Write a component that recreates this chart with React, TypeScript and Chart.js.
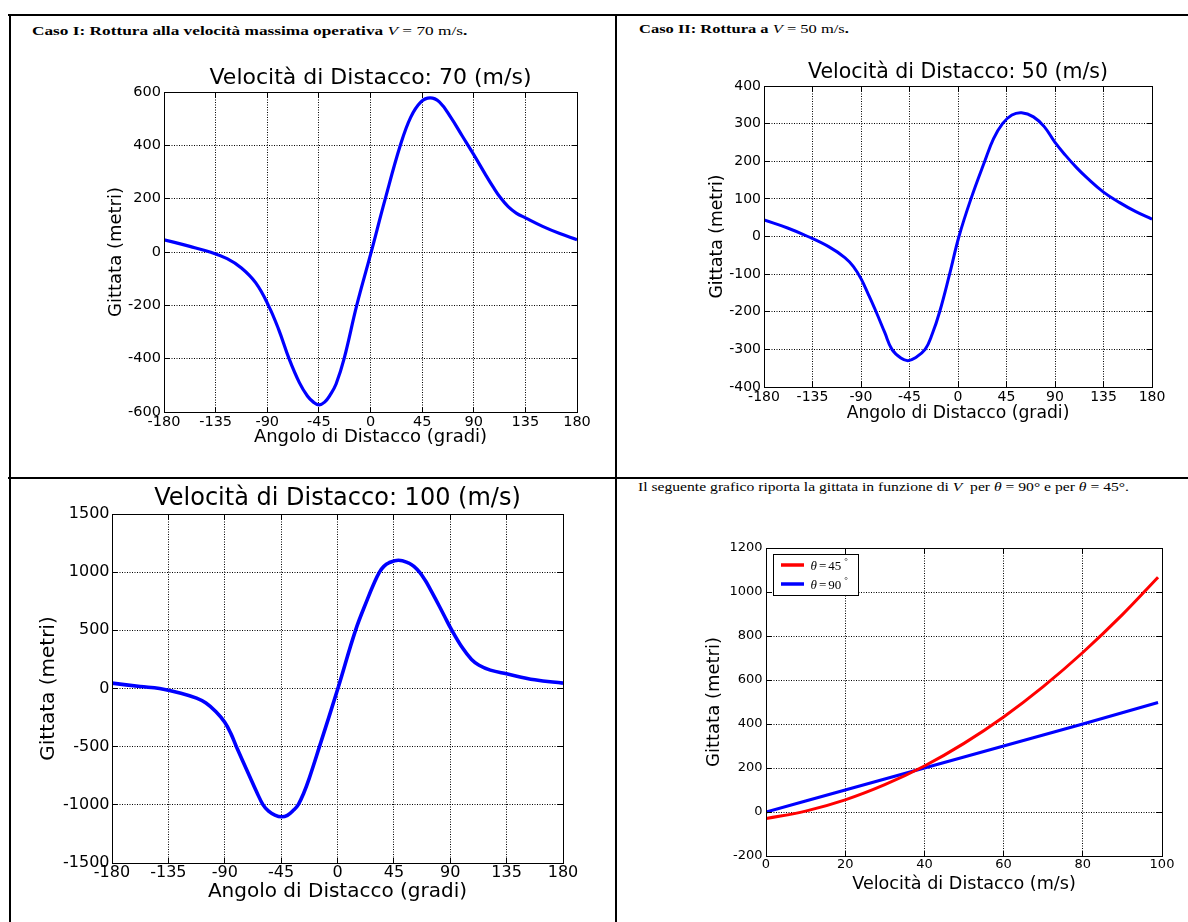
import React, { useEffect, useLayoutEffect, useRef } from 'react';
import { Chart, registerables } from 'chart.js';

Chart.register(...registerables);

// ---------------- data ----------------
const angleTicks = [-180, -135, -90, -45, 0, 45, 90, 135, 180];

const yTicks70 = [-600, -400, -200, 0, 200, 400, 600];
const angle70 = [-180, -157.5, -140, -125, -112.5, -100, -89, -80, -71, -62, -55, -50, -45, -40, -35, -30, -23, -12, 0, 12.9, 26, 35, 44, 52, 60, 70, 80, 90, 100, 107, 113, 120, 127, 135, 150, 165, 180];
const range70 = [46, 21, 0, -25, -60, -116, -200, -291, -400, -490, -540, -562, -573, -563, -535, -495, -400, -200, -10, 200, 400, 505, 563, 578, 563, 505, 435, 365, 292, 243, 205, 170, 146, 128, 96, 69, 46];

const yTicks50 = [-400, -300, -200, -100, 0, 100, 200, 300, 400];
const angle50 = [-180, -157.5, -139.3, -120, -105, -97, -90, -83, -76, -68, -61.3, -53, -46.5, -40, -30.5, -24, -17, -7.8, 0.9, 12, 24.8, 33, 41.3, 50, 59, 70, 80, 90, 100, 110, 120, 135, 150, 165, 180];
const range50 = [44, 22, 0, -27, -56, -80, -112, -155, -200, -255, -300, -323, -330, -323, -300, -260, -200, -100, 0, 100, 200, 260, 300, 323, 329, 318, 292, 250, 215, 183, 155, 118, 90, 66, 46];

const yTicks100 = [-1500, -1000, -500, 0, 500, 1000, 1500];
const angle100 = [-180, -157.5, -142, -125, -112.5, -105, -97, -90, -85, -80.7, -70, -64.5, -59.4, -55, -50, -44.7, -40, -35, -31.4, -27, -22.5, -14.4, 0.3, 14.4, 24, 29, 33.5, 37, 41, 48.7, 57, 61, 65.5, 70, 74, 78, 85, 90.8, 100, 107, 113, 122, 135, 157.5, 180];
const range100 = [46, 17, 0, -40, -83, -125, -200, -290, -390, -500, -759, -890, -1000, -1055, -1088, -1103, -1090, -1045, -1000, -900, -770, -500, 0, 500, 770, 900, 1000, 1050, 1080, 1103, 1078, 1050, 1000, 930, 855, 775, 630, 510, 345, 250, 200, 158, 126, 75, 46];

const speedTicks = [0, 20, 40, 60, 80, 100];
const yTicksSpeed = [-200, 0, 200, 400, 600, 800, 1000, 1200];
const speed45 = [0, 10, 20, 30, 40, 50, 60, 70, 80, 90, 99];
const range45 = [-30, 4, 55, 124, 209, 312, 432, 570, 725, 897, 1067];
const speed90 = [0, 20, 40, 60, 80, 99];
const range90 = [0, 100, 200, 300, 400, 498];

const FAMILY = '"DejaVu Sans", sans-serif';
const SERIF = '"Liberation Serif", "DejaVu Serif", serif';

type Series = { label: string; xs: number[]; ys: number[]; color: string; width: number };
type Spec = {
  plot: [number, number, number, number];
  axisW: number; axisH: number; padTop: number; padRight: number;
  xMin: number; xMax: number; yMin: number; yMax: number;
  xTicks: number[]; yTicks: number[];
  tickSize: number; xTickPad: number; yTickPad: number;
  xTitle: string; yTitle: string; xTitleSize: number; yTitleSize: number;
  xTitleY: number; yTitleX: number;
  title?: string; titleSize?: number; titleY?: number;
  series: Series[];
  legend?: boolean;
};

const specs: Spec[] = [
  {
    plot: [164, 92, 577, 412], axisW: 60, axisH: 40, padTop: 40, padRight: 20,
    xMin: -180, xMax: 180, yMin: -600, yMax: 600, xTicks: angleTicks, yTicks: yTicks70,
    tickSize: 14.5, xTickPad: 1.5, yTickPad: 3,
    xTitle: 'Angolo di Distacco (gradi)', yTitle: 'Gittata (metri)', xTitleSize: 18, yTitleSize: 18,
    xTitleY: 437.5, yTitleX: 116,
    title: 'Velocità di Distacco: 70 (m/s)', titleSize: 22, titleY: 78,
    series: [{ label: 'V=70', xs: angle70, ys: range70, color: '#0000ff', width: 3.2 }],
  },
  {
    plot: [764, 86, 1152, 387], axisW: 60, axisH: 40, padTop: 40, padRight: 20,
    xMin: -180, xMax: 180, yMin: -400, yMax: 400, xTicks: angleTicks, yTicks: yTicks50,
    tickSize: 14, xTickPad: 2, yTickPad: 3,
    xTitle: 'Angolo di Distacco (gradi)', yTitle: 'Gittata (metri)', xTitleSize: 17.2, yTitleSize: 17.2,
    xTitleY: 413.5, yTitleX: 717.5,
    title: 'Velocità di Distacco: 50 (m/s)', titleSize: 20.5, titleY: 73,
    series: [{ label: 'V=50', xs: angle50, ys: range50, color: '#0000ff', width: 3 }],
  },
  {
    plot: [112, 514, 563, 863], axisW: 80, axisH: 45, padTop: 40, padRight: 20,
    xMin: -180, xMax: 180, yMin: -1500, yMax: 1500, xTicks: angleTicks, yTicks: yTicks100,
    tickSize: 16, xTickPad: 0, yTickPad: 2.5,
    xTitle: 'Angolo di Distacco (gradi)', yTitle: 'Gittata (metri)', xTitleSize: 20, yTitleSize: 20,
    xTitleY: 892, yTitleX: 49,
    title: 'Velocità di Distacco: 100 (m/s)', titleSize: 24, titleY: 499,
    series: [{ label: 'V=100', xs: angle100, ys: range100, color: '#0000ff', width: 3.6 }],
  },
  {
    plot: [766, 548, 1162, 856], axisW: 65, axisH: 40, padTop: 15, padRight: 16,
    xMin: 0, xMax: 100, yMin: -200, yMax: 1200, xTicks: speedTicks, yTicks: yTicksSpeed,
    tickSize: 13, xTickPad: 1.2, yTickPad: 3.5,
    xTitle: 'Velocità di Distacco (m/s)', yTitle: 'Gittata (metri)', xTitleSize: 17.6, yTitleSize: 18,
    xTitleY: 884, yTitleX: 714,
    series: [
      { label: 'θ=45°', xs: speed45, ys: range45, color: '#ff0000', width: 3 },
      { label: 'θ=90°', xs: speed90, ys: range90, color: '#0000ff', width: 3 },
    ],
    legend: true,
  },
];

const align = (p: number) => Math.round(p - 0.5) + 0.5;

function MplChart({ spec }: { spec: Spec }) {
  const ref = useRef<HTMLCanvasElement>(null);
  const [L, T, R, B] = spec.plot;
  const left = L - spec.axisW;
  const top = T - spec.padTop;
  const width = spec.axisW + (R - L) + spec.padRight;
  const height = spec.padTop + (B - T) + spec.axisH;

  useEffect(() => {
    const font = (size: number) => ({ family: FAMILY, size, lineHeight: 1.2 });
    const yTitlePad = spec.yTitleX - left - (spec.yTitleSize * 1.2) / 2;
    const xTitlePad = top + height - (spec.xTitleSize * 1.2) / 2 - spec.xTitleY;

    const frame = {
      id: 'mplFrame',
      afterDraw(chart: any) {
        const { ctx, chartArea: a, scales } = chart;
        ctx.save();
        ctx.strokeStyle = '#000';
        ctx.lineWidth = 1;
        ctx.setLineDash([]);
        ctx.beginPath();
        for (const t of scales.x.ticks) {
          const px = align(scales.x.getPixelForValue(t.value));
          ctx.moveTo(px, a.bottom); ctx.lineTo(px, a.bottom - 5);
          ctx.moveTo(px, a.top); ctx.lineTo(px, a.top + 5);
        }
        for (const t of scales.y.ticks) {
          const py = align(scales.y.getPixelForValue(t.value));
          ctx.moveTo(a.left, py); ctx.lineTo(a.left + 5, py);
          ctx.moveTo(a.right, py); ctx.lineTo(a.right - 5, py);
        }
        ctx.stroke();
        const l = align(a.left), r = align(a.right), tt = align(a.top), bb = align(a.bottom);
        ctx.strokeRect(l, tt, r - l, bb - tt);

        if (spec.title) {
          ctx.fillStyle = '#000';
          ctx.font = `${spec.titleSize}px ${FAMILY}`;
          ctx.textAlign = 'center';
          ctx.textBaseline = 'middle';
          ctx.fillText(spec.title, (a.left + a.right) / 2, a.top - (T - (spec.titleY as number)));
        }

        if (spec.legend) {
          const bx = align(a.left + 7), by = align(a.top + 6);
          ctx.fillStyle = '#fff';
          ctx.fillRect(bx, by, 85, 41);
          ctx.strokeStyle = '#000';
          ctx.lineWidth = 1;
          ctx.strokeRect(bx, by, 85, 41);
          spec.series.forEach((s, i) => {
            const ly = a.top + 17 + i * 19;
            ctx.strokeStyle = s.color;
            ctx.lineWidth = 3.5;
            ctx.beginPath();
            ctx.moveTo(a.left + 15, ly);
            ctx.lineTo(a.left + 38, ly);
            ctx.stroke();
            const base = a.top + 22 + i * 18.5;
            const m = s.label.match(/^(.)=(\d+)(°)$/);
            let x = a.left + 44.5;
            ctx.fillStyle = '#000';
            ctx.textAlign = 'left';
            ctx.textBaseline = 'alphabetic';
            if (m) {
              ctx.font = `italic 13px ${SERIF}`;
              ctx.fillText(m[1], x, base);
              x += ctx.measureText(m[1]).width + 2;
              ctx.font = `13px ${SERIF}`;
              ctx.fillText('=', x, base);
              x += ctx.measureText('=').width + 2;
              ctx.fillText(m[2], x, base);
              x += ctx.measureText(m[2]).width + 3;
              ctx.font = `9px ${SERIF}`;
              ctx.fillText(m[3], x, base - 6);
            } else {
              ctx.font = `13px ${SERIF}`;
              ctx.fillText(s.label, x, base);
            }
          });
        }
        ctx.restore();
      },
    };

    const chart = new Chart(ref.current as HTMLCanvasElement, {
      type: 'line',
      data: {
        datasets: spec.series.map((s) => ({
          label: s.label,
          data: s.xs.map((x, i) => ({ x, y: s.ys[i] })),
          borderColor: s.color,
          backgroundColor: s.color,
          borderWidth: s.width,
          pointRadius: 0,
          fill: false,
          tension: 0.4,
          cubicInterpolationMode: 'default',
        })),
      },
      options: {
        responsive: false,
        animation: false,
        devicePixelRatio: 1,
        layout: { padding: { left: 0, top: spec.padTop, right: spec.padRight, bottom: 0 } },
        plugins: { legend: { display: false }, tooltip: { enabled: false }, title: { display: false } },
        scales: {
          x: {
            type: 'linear',
            min: spec.xMin,
            max: spec.xMax,
            afterBuildTicks: (s: any) => { s.ticks = spec.xTicks.map((v) => ({ value: v })); },
            afterFit: (s: any) => { s.height = spec.axisH; },
            ticks: {
              color: '#000', font: font(spec.tickSize), padding: spec.xTickPad,
              maxRotation: 0, minRotation: 0, autoSkip: false,
              callback: (v: any) => String(v),
            },
            grid: { color: '#000', lineWidth: 1, drawTicks: false },
            border: { display: false, dash: [1, 1.5] },
            title: {
              display: true, text: spec.xTitle, color: '#000', font: font(spec.xTitleSize),
              padding: { top: 0, bottom: xTitlePad },
            },
          },
          y: {
            type: 'linear',
            min: spec.yMin,
            max: spec.yMax,
            afterBuildTicks: (s: any) => { s.ticks = spec.yTicks.map((v) => ({ value: v })); },
            afterFit: (s: any) => { s.width = spec.axisW; },
            ticks: {
              color: '#000', font: font(spec.tickSize), padding: spec.yTickPad,
              autoSkip: false, callback: (v: any) => String(v),
            },
            grid: { color: '#000', lineWidth: 1, drawTicks: false },
            border: { display: false, dash: [1, 1.5] },
            title: {
              display: true, text: spec.yTitle, color: '#000', font: font(spec.yTitleSize),
              padding: { top: yTitlePad, bottom: 0 },
            },
          },
        },
      } as any,
      plugins: [frame],
    });
    return () => chart.destroy();
  }, []);

  return (
    <canvas
      ref={ref}
      width={width}
      height={height}
      style={{ position: 'absolute', left, top, width, height }}
    />
  );
}

function FitText({ x, baseline, width, size, children }: { x: number; baseline: number; width: number; size: number; children: React.ReactNode }) {
  const ref = useRef<HTMLSpanElement>(null);
  useLayoutEffect(() => {
    const el = ref.current;
    if (!el) return;
    const w = el.offsetWidth;
    if (w > 0) el.style.transform = `scaleX(${width / w})`;
  }, [width]);
  return (
    <span
      ref={ref}
      style={{
        position: 'absolute', left: x, top: baseline - size * 0.8375,
        fontFamily: SERIF, fontSize: size, lineHeight: `${size}px`,
        whiteSpace: 'nowrap', transformOrigin: '0 0', display: 'inline-block', color: '#000',
      }}
    >
      {children}
    </span>
  );
}

const line = (left: number, top: number, width: number, height: number) => (
  <div style={{ position: 'absolute', left, top, width, height, background: '#000' }} />
);

export default function App() {
  return (
    <div style={{ position: 'absolute', left: 0, top: 0, width: 1188, height: 922, background: '#fff', overflow: 'hidden' }}>
      {line(8, 14, 1180, 2)}
      {line(9, 14, 2, 908)}
      {line(615, 14, 2, 908)}
      {line(8, 477, 1180, 2)}

      <FitText x={31.6} baseline={35} width={435} size={13.5}>
        <b>Caso I: Rottura alla velocità massima operativa</b> <i>V</i> = 70 m/s<b>.</b>
      </FitText>
      <FitText x={638.8} baseline={33.5} width={210} size={13.5}>
        <b>Caso II: Rottura a</b> <i>V</i> = 50 m/s<b>.</b>
      </FitText>
      <FitText x={637.7} baseline={491} width={491} size={13.5}>
        Il seguente grafico riporta la gittata in funzione di <i>V</i>&nbsp; per <i>θ</i> = 90° e per <i>θ</i> = 45°.
      </FitText>

      {specs.map((s, i) => (
        <MplChart key={i} spec={s} />
      ))}
    </div>
  );
}
